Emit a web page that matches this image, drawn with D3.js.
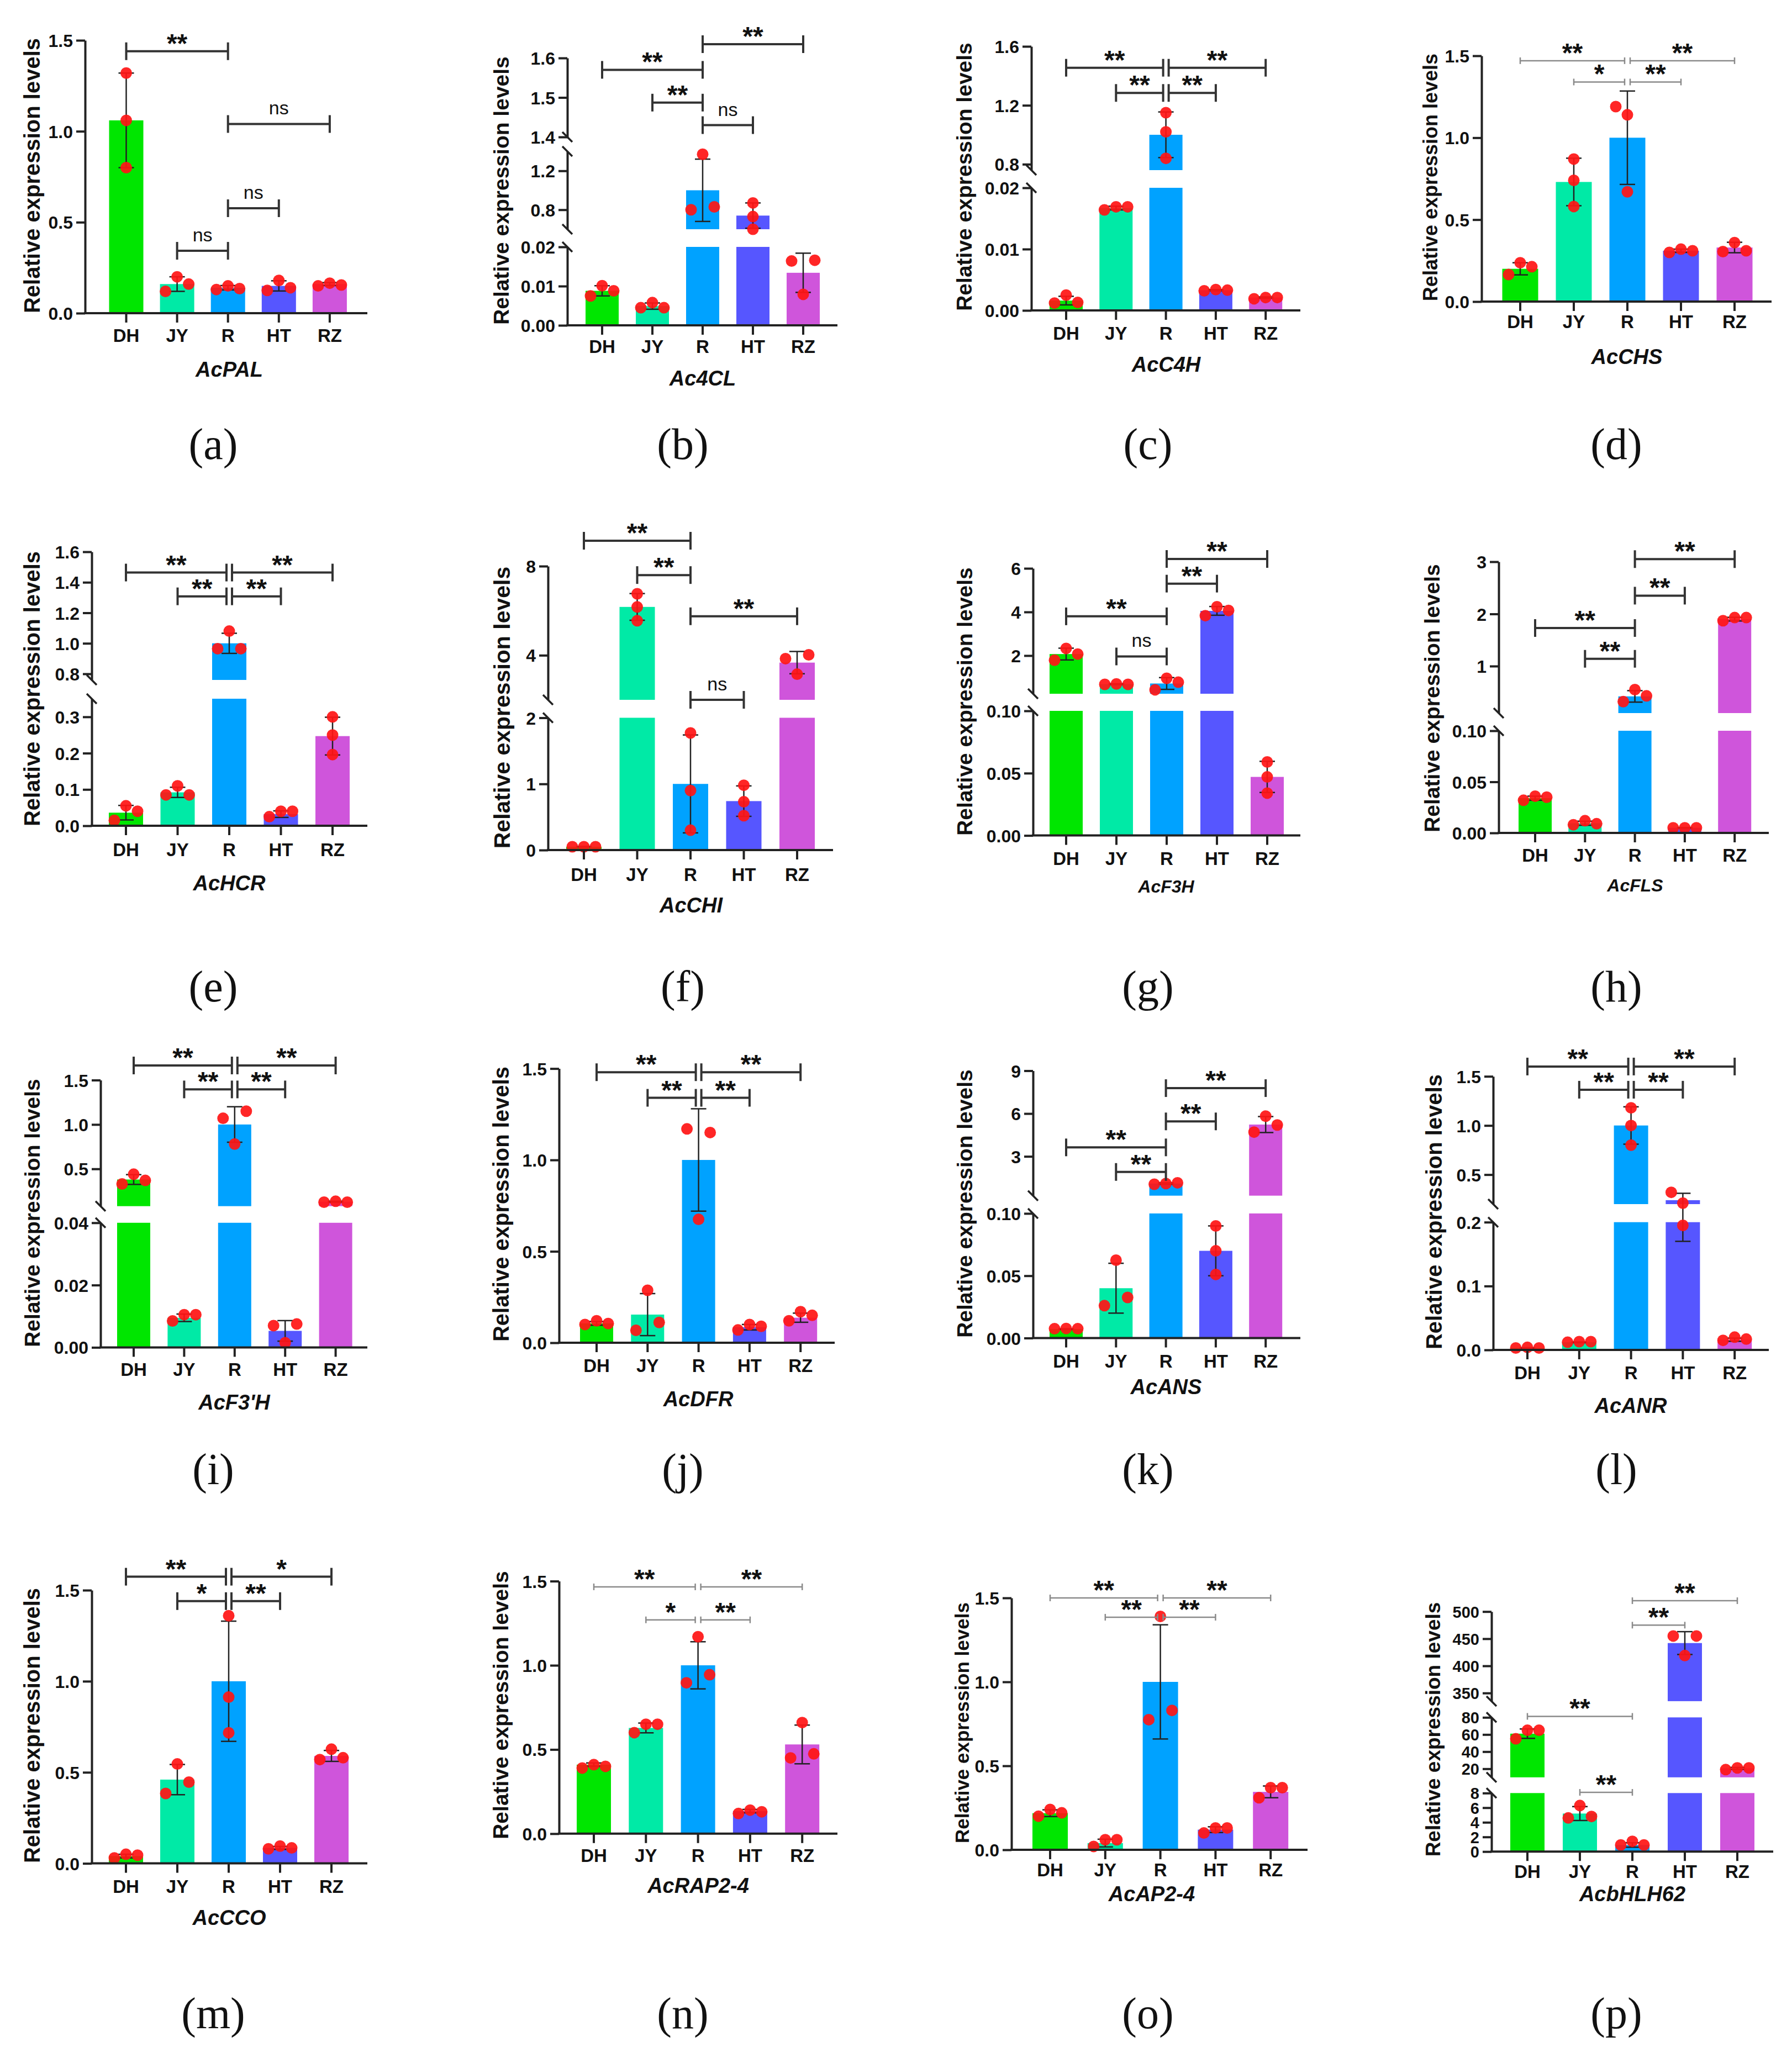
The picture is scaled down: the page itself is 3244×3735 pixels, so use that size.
<!DOCTYPE html>
<html>
<head>
<meta charset="utf-8">
<script src="https://cdn.jsdelivr.net/npm/d3@7"></script>
<style>
  body { margin: 0; background: #fff; }
  svg { display: block; }
</style>
</head>
<body>
<svg id="fig"></svg>
<script>
const W = 3244, H = 3735;

// ---- data ----
const groups = ["DH", "JY", "R", "HT", "RZ"];
const genes = ["AcPAL", "Ac4CL", "AcC4H", "AcCHS", "AcHCR", "AcCHI", "AcF3H", "AcFLS",
               "AcF3'H", "AcDFR", "AcANS", "AcANR", "AcCCO", "AcRAP2-4", "AcAP2-4", "AcbHLH62"];
const panelTags = "abcdefghijklmnop".split("").map(c => "(" + c + ")");

// y axis pieces (bottom first) and their tick values
const yDomains = [
  [[0, 1.5]],
  [[0, 0.02], [0.6, 1.4], [1.4, 1.6]],
  [[0, 0.02], [0.76, 1.6]],
  [[0, 1.5]],
  [[0, 0.35], [0.76, 1.6]],
  [[0, 2], [2, 8]],
  [[0, 0.1], [0.25, 6]],
  [[0, 0.1], [0.1, 3]],
  [[0, 0.04], [0.08, 1.5]],
  [[0, 1.5]],
  [[0, 0.1], [0.25, 9]],
  [[0, 0.2], [0.2, 1.5]],
  [[0, 1.5]],
  [[0, 1.5]],
  [[0, 1.5]],
  [[0, 8], [10, 80], [335, 500]]
];
const yTicks = [
  [[0, 0.5, 1, 1.5]],
  [[0, 0.01, 0.02], [0.8, 1.2], [1.4, 1.5, 1.6]],
  [[0, 0.01, 0.02], [0.8, 1.2, 1.6]],
  [[0, 0.5, 1, 1.5]],
  [[0, 0.1, 0.2, 0.3], [0.8, 1, 1.2, 1.4, 1.6]],
  [[0, 1, 2], [4, 8]],
  [[0, 0.05, 0.1], [2, 4, 6]],
  [[0, 0.05, 0.1], [1, 2, 3]],
  [[0, 0.02, 0.04], [0.5, 1, 1.5]],
  [[0, 0.5, 1, 1.5]],
  [[0, 0.05, 0.1], [3, 6, 9]],
  [[0, 0.1, 0.2], [0.5, 1, 1.5]],
  [[0, 0.5, 1, 1.5]],
  [[0, 0.5, 1, 1.5]],
  [[0, 0.5, 1, 1.5]],
  [[0, 2, 4, 6, 8], [20, 40, 60, 80], [350, 400, 450, 500]]
];

// bar heights (mean) per gene, order DH JY R HT RZ
const meanValues = [
  [1.06, 0.16, 0.14, 0.15, 0.16],
  [0.0088, 0.0049, 1.0, 0.74, 0.0134],
  [0.0016, 0.0167, 1.0, 0.0033, 0.0021],
  [0.2, 0.73, 1.0, 0.31, 0.33],
  [0.036, 0.092, 1.0, 0.032, 0.247],
  [0.05, 6.17, 1.0, 0.74, 3.67],
  [2.07, 0.69, 0.72, 4.05, 0.047],
  [0.034, 0.0095, 0.42, 0.005, 1.9],
  [0.38, 0.0095, 1.0, 0.0053, 0.13],
  [0.106, 0.154, 1.0, 0.085, 0.137],
  [0.0072, 0.04, 1.1, 0.07, 5.23],
  [0.003, 0.012, 1.0, 0.24, 0.016],
  [0.04, 0.46, 1.0, 0.085, 0.59],
  [0.41, 0.628, 1.0, 0.134, 0.53],
  [0.218, 0.04, 1.0, 0.12, 0.345],
  [61, 5.2, 0.9, 442, 20.5]
];
// standard deviations
const sdValues = [
  [0.26, 0.04, 0.012, 0.028, 0.008],
  [0.0013, 0.0008, 0.32, 0.13, 0.005],
  [0.0007, 0.0003, 0.155, 0.0001, 0.0001],
  [0.037, 0.145, 0.285, 0.01, 0.032],
  [0.02, 0.014, 0.066, 0.009, 0.052],
  [0.005, 0.6, 0.74, 0.23, 0.5],
  [0.27, 0.02, 0.27, 0.2, 0.0125],
  [0.002, 0.002, 0.11, 0.0003, 0.035],
  [0.055, 0.0012, 0.2, 0.0033, 0.006],
  [0.01, 0.115, 0.28, 0.015, 0.025],
  [0.0003, 0.02, 0.05, 0.02, 0.56],
  [0.0006, 0.0006, 0.19, 0.07, 0.0025],
  [0.01, 0.083, 0.33, 0.008, 0.03],
  [0.01, 0.029, 0.14, 0.01, 0.115],
  [0.02, 0.023, 0.34, 0.017, 0.035],
  [5.5, 0.95, 0.3, 21, 1.1]
];
// three replicates per bar
const replicates = [
  [[1.32, 1.06, 0.80], [0.12, 0.20, 0.16], [0.13, 0.15, 0.135], [0.125, 0.18, 0.14], [0.15, 0.165, 0.155]],
  [[0.0075, 0.0101, 0.0088], [0.0045, 0.0058, 0.0045], [0.80, 1.37, 0.83], [0.87, 0.73, 0.60], [0.0164, 0.0079, 0.0166]],
  [[0.0012, 0.0025, 0.0013], [0.0164, 0.0169, 0.0169], [1.15, 1.02, 0.84], [0.0032, 0.0034, 0.0033], [0.0019, 0.0021, 0.0021]],
  [[0.165, 0.237, 0.213], [0.87, 0.74, 0.58], [1.19, 1.14, 0.67], [0.30, 0.32, 0.31], [0.305, 0.36, 0.31]],
  [[0.015, 0.055, 0.04], [0.085, 0.11, 0.085], [0.965, 1.08, 0.965], [0.025, 0.04, 0.04], [0.30, 0.25, 0.196]],
  [[0.05, 0.05, 0.05], [6.76, 6.17, 5.55], [1.77, 0.9, 0.3], [0.98, 0.73, 0.52], [3.85, 3.15, 4.02]],
  [[1.79, 2.33, 2.07], [0.68, 0.70, 0.68], [0.43, 0.96, 0.78], [3.83, 4.24, 4.07], [0.059, 0.047, 0.034]],
  [[0.032, 0.036, 0.035], [0.008, 0.012, 0.009], [0.32, 0.55, 0.43], [0.005, 0.005, 0.005], [1.87, 1.93, 1.93]],
  [[0.33, 0.44, 0.37], [0.0085, 0.0105, 0.0105], [1.07, 0.78, 1.15], [0.007, 0.0015, 0.0075], [0.125, 0.135, 0.125]],
  [[0.10, 0.12, 0.105], [0.068, 0.287, 0.111], [1.17, 0.675, 1.15], [0.07, 0.10, 0.09], [0.12, 0.17, 0.15]],
  [[0.0075, 0.0077, 0.0075], [0.026, 0.0625, 0.0326], [1.05, 1.1, 1.15], [0.09, 0.07, 0.051], [4.7, 5.82, 5.2]],
  [[0.003, 0.004, 0.003], [0.012, 0.013, 0.013], [1.18, 1.0, 0.8], [0.32, 0.21, 0.195], [0.015, 0.02, 0.017]],
  [[0.03, 0.05, 0.045], [0.384, 0.546, 0.446], [1.36, 0.913, 0.717], [0.08, 0.095, 0.085], [0.57, 0.627, 0.58]],
  [[0.39, 0.41, 0.40], [0.60, 0.65, 0.65], [0.896, 1.17, 0.944], [0.12, 0.14, 0.13], [0.45, 0.66, 0.474]],
  [[0.20, 0.24, 0.22], [0.02, 0.06, 0.06], [0.775, 1.39, 0.83], [0.10, 0.13, 0.13], [0.31, 0.37, 0.37]],
  [[55, 65, 65], [4.6, 6.3, 4.8], [0.9, 1.4, 0.9], [455, 419, 455], [19, 21, 21]]
];
// significance brackets: [from group, to group, level (axis value), label]
const sigBrackets = [
  [[0, 2, 1.44, "**"], [2, 4, 1.04, "ns"], [2, 3, 0.577, "ns"], [1, 2, 0.343, "ns"]],
  [[0, 2, 1.57, "**"], [2, 4, 1.635, "**"], [1, 2, 1.487, "**"], [2, 3, 1.43, "ns"]],
  [[0, 2, 1.455, "**"], [2, 4, 1.455, "**"], [1, 2, 1.284, "**"], [2, 3, 1.284, "**"]],
  [[0, 2, 1.47, "**"], [2, 4, 1.47, "**"], [1, 2, 1.34, "*"], [2, 3, 1.34, "**"]],
  [[0, 2, 1.464, "**"], [2, 4, 1.464, "**"], [1, 2, 1.308, "**"], [2, 3, 1.308, "**"]],
  [[0, 2, 9.14, "**"], [1, 2, 7.6, "**"], [2, 4, 5.75, "**"], [2, 3, 2.0, "ns"]],
  [[2, 4, 6.43, "**"], [2, 3, 5.3, "**"], [0, 2, 3.8, "**"], [1, 2, 1.96, "ns"]],
  [[2, 4, 3.05, "**"], [2, 3, 2.35, "**"], [0, 2, 1.73, "**"], [1, 2, 1.14, "**"]],
  [[0, 2, 1.665, "**"], [2, 4, 1.665, "**"], [1, 2, 1.395, "**"], [2, 3, 1.395, "**"]],
  [[0, 2, 1.48, "**"], [2, 4, 1.48, "**"], [1, 2, 1.34, "**"], [2, 3, 1.34, "**"]],
  [[2, 4, 7.78, "**"], [2, 3, 5.45, "**"], [0, 2, 3.63, "**"], [1, 2, 1.91, "**"]],
  [[0, 2, 1.6, "**"], [2, 4, 1.6, "**"], [1, 2, 1.364, "**"], [2, 3, 1.364, "**"]],
  [[0, 2, 1.574, "**"], [2, 4, 1.574, "*"], [1, 2, 1.44, "*"], [2, 3, 1.44, "**"]],
  [[0, 2, 1.466, "**"], [2, 4, 1.466, "**"], [1, 2, 1.27, "*"], [2, 3, 1.27, "**"]],
  [[0, 2, 1.5, "**"], [2, 4, 1.5, "**"], [1, 2, 1.385, "**"], [2, 3, 1.385, "**"]],
  [[2, 4, 520, "**"], [2, 3, 475, "**"], [0, 2, 81.2, "**"], [1, 2, 8.1, "**"]]
];

// ---- layout (pixels) ----
// ax: y-axis x, c0: first bar centre, step: bar spacing, bw: bar width, axEnd: x-axis end,
// seg: pixel range [bottom, top] for each y piece, title: [cx, cy, size], xlab: label centre y,
// gene: [cx, cy, size], tag: [cx, cy], thin: grey bracket style
const layout = [
  {ax: 154, c0: 228.5, step: 92.1, bw: 62, axEnd: 665, seg: [[567, 73]], title: [62, 318, 40], xlab: 608, gene: [415, 668, 38], tag: [386, 811]},
  {ax: 1027, c0: 1090, step: 91, bw: 60, axEnd: 1516, seg: [[589, 447], [415, 274], [248, 105]], title: [911, 345, 39], xlab: 628, gene: [1272, 684, 38], tag: [1236, 811]},
  {ax: 1867, c0: 1930, step: 90.3, bw: 60, axEnd: 2354, seg: [[562, 340], [308, 84]], title: [1749, 320, 39], xlab: 604, gene: [2111, 659, 38], tag: [2078, 811]},
  {ax: 2682, c0: 2752, step: 97, bw: 65, axEnd: 3207, seg: [[546, 101]], title: [2593, 321, 36], xlab: 583, gene: [2945, 645, 38], tag: [2926, 811], thin: true},
  {ax: 166, c0: 228, step: 93.5, bw: 62, axEnd: 665, seg: [[1495, 1265], [1231, 999]], title: [62, 1247, 40], xlab: 1539, gene: [415, 1598, 38], tag: [386, 1793]},
  {ax: 992, c0: 1057, step: 96.5, bw: 64, axEnd: 1508, seg: [[1539, 1299.5], [1267, 1025]], title: [913, 1281, 41], xlab: 1584, gene: [1251, 1638, 38], tag: [1236, 1793]},
  {ax: 1870, c0: 1930, step: 91, bw: 60, axEnd: 2354, seg: [[1512.6, 1287], [1256, 1029]], title: [1750, 1270, 39], xlab: 1555, gene: [2111, 1604, 32], tag: [2078, 1793]},
  {ax: 2713, c0: 2779, step: 90.3, bw: 60, axEnd: 3202, seg: [[1508, 1323], [1291, 1017]], title: [2596, 1264, 39], xlab: 1549, gene: [2960, 1602, 32], tag: [2926, 1793]},
  {ax: 182, c0: 242, step: 91.4, bw: 60, axEnd: 665, seg: [[2439.4, 2213.8], [2183.7, 1955.5]], title: [62, 2196, 39], xlab: 2480, gene: [424, 2538, 38], tag: [386, 2667]},
  {ax: 1012, c0: 1080, step: 92.3, bw: 60, axEnd: 1511, seg: [[2431, 1934.6]], title: [911, 2180, 40], xlab: 2473, gene: [1264, 2532, 38], tag: [1236, 2667]},
  {ax: 1870, c0: 1930, step: 90.3, bw: 60, axEnd: 2354, seg: [[2422.5, 2196.9], [2164.7, 1938.5]], title: [1750, 2179, 39], xlab: 2465, gene: [2111, 2510, 38], tag: [2078, 2667]},
  {ax: 2703, c0: 2765, step: 93.8, bw: 62, axEnd: 3202, seg: [[2444, 2212.7], [2180, 1948.7]], title: [2600, 2194, 40], xlab: 2486, gene: [2952, 2544, 38], tag: [2926, 2667]},
  {ax: 166, c0: 228, step: 93, bw: 62, axEnd: 665, seg: [[3373.6, 2879]], title: [62, 3124, 40], xlab: 3416, gene: [415, 3471, 38], tag: [386, 3652]},
  {ax: 1012, c0: 1075, step: 94.3, bw: 62, axEnd: 1516, seg: [[3319.8, 2862.6]], title: [910, 3087, 39], xlab: 3360, gene: [1264, 3413, 38], tag: [1236, 3652], thin: true},
  {ax: 1831, c0: 1901, step: 99.8, bw: 64, axEnd: 2367, seg: [[3349, 2893]], title: [1745, 3119, 35], xlab: 3386, gene: [2085, 3428, 38], tag: [2078, 3652], thin: true},
  {ax: 2700, c0: 2765, step: 95, bw: 62, axEnd: 3210, seg: [[3352.2, 3246.3], [3217.8, 3109.3], [3079.9, 2917.7]], title: [2598, 3131, 37], xlab: 3389, gene: [2955, 3428, 38], tag: [2926, 3652], thin: true, tickFont: 29}
];

const barColors = ["#00e600", "#00eaa6", "#00a2ff", "#5656ff", "#cf55db"];
const color = d3.scaleOrdinal().domain(groups).range(barColors);
const SANS = "'Liberation Sans', Arial, sans-serif";
const SERIF = "'Liberation Serif', 'Times New Roman', serif";
const INK = "#222";

const svg = d3.select("#fig").attr("width", W).attr("height", H).attr("viewBox", `0 0 ${W} ${H}`);
svg.append("rect").attr("width", W).attr("height", H).attr("fill", "#fff");

genes.forEach((gene, p) => {
  const L = layout[p];
  const g = svg.append("g").attr("class", "panel");
  const doms = yDomains[p];
  const base = L.seg[0][0];

  const pin = 1 - L.bw / L.step;
  const x = d3.scaleBand().domain(groups)
    .range([L.c0 - L.step / 2, L.c0 + L.step * 4.5])
    .paddingInner(pin).paddingOuter(pin / 2);
  const cx = i => x(groups[i]) + x.bandwidth() / 2;

  const segs = doms.map((d, i) => d3.scaleLinear().domain(d).range(L.seg[i]));
  const yv = v => {
    let k = 0;
    doms.forEach((d, i) => { if (v >= d[0]) k = i; });
    return segs[k](v);
  };

  // bars, split over the axis pieces
  const pieces = [];
  meanValues[p].forEach((m, j) => doms.forEach((d, i) => {
    if (m > d[0]) pieces.push({j, i, lo: d[0], hi: Math.min(m, d[1])});
  }));
  g.selectAll("rect.bar").data(pieces).join("rect")
    .attr("class", "bar")
    .attr("x", d => x(groups[d.j]))
    .attr("width", x.bandwidth())
    .attr("y", d => segs[d.i](d.hi))
    .attr("height", d => segs[d.i](d.lo) - segs[d.i](d.hi))
    .attr("fill", d => color(groups[d.j]));

  // error bars (mean ± SD)
  const errs = meanValues[p].map((m, j) => ({j, lo: m - sdValues[p][j], hi: m + sdValues[p][j]}));
  const eg = g.append("g").attr("stroke", INK).attr("stroke-width", 2.5);
  eg.selectAll("line.stem").data(errs).join("line")
    .attr("x1", d => cx(d.j)).attr("x2", d => cx(d.j))
    .attr("y1", d => yv(d.lo)).attr("y2", d => yv(d.hi));
  const caps = errs.flatMap(d => [{j: d.j, v: d.lo}, {j: d.j, v: d.hi}]);
  eg.selectAll("line.cap").data(caps).join("line")
    .attr("x1", d => cx(d.j) - 14).attr("x2", d => cx(d.j) + 14)
    .attr("y1", d => yv(d.v)).attr("y2", d => yv(d.v));

  // replicate dots, spread sideways when they would overlap
  const pts = [];
  replicates[p].forEach((arr, j) => {
    const ys = arr.map(yv);
    arr.forEach((v, k) => {
      const hit = ys.some((yy, q) => q !== k && Math.abs(yy - ys[k]) < 21);
      pts.push({j, v, off: hit ? (k - 1) * 21 : 0});
    });
  });
  g.selectAll("circle.pt").data(pts).join("circle")
    .attr("class", "pt")
    .attr("cx", d => cx(d.j) + d.off)
    .attr("cy", d => yv(d.v))
    .attr("r", 10.5)
    .attr("fill", "#ff1616")
    .attr("fill-opacity", 0.93);

  // y axis pieces
  const tfs = L.tickFont || 32;
  doms.forEach((d, i) => {
    const ticks = yTicks[p][i];
    const dec = d3.max(ticks, t => (String(t).split(".")[1] || "").length);
    const axis = d3.axisLeft(segs[i]).tickValues(ticks).tickFormat(d3.format(`.${dec}f`))
      .tickSize(16).tickPadding(6).tickSizeOuter(0);
    const ga = g.append("g").attr("transform", `translate(${L.ax},0)`).call(axis);
    ga.attr("font-size", tfs).attr("font-family", SANS).attr("font-weight", "bold");
    ga.select(".domain").attr("stroke", INK).attr("stroke-width", 4);
    ga.selectAll(".tick line").attr("stroke", INK).attr("stroke-width", 4);
    ga.selectAll(".tick text").attr("fill", "#111").attr("dy", "0.36em");
    // break marks
    const ends = [];
    if (i > 0) ends.push(L.seg[i][0]);
    if (i < doms.length - 1) ends.push(L.seg[i][1]);
    g.selectAll(null).data(ends).join("line")
      .attr("x1", L.ax - 9).attr("x2", L.ax + 9)
      .attr("y1", e => e - 9).attr("y2", e => e + 9)
      .attr("stroke", INK).attr("stroke-width", 3.5);
  });

  // x axis
  const xa = d3.axisBottom(x).tickSize(17).tickSizeOuter(0)
    .tickPadding(L.xlab - 12 - base - 17);
  const gx = g.append("g").attr("transform", `translate(0,${base})`).call(xa);
  gx.select(".domain").remove();
  gx.attr("font-size", 33).attr("font-family", SANS).attr("font-weight", "bold");
  gx.selectAll(".tick line").attr("stroke", INK).attr("stroke-width", 4);
  gx.selectAll(".tick text").attr("fill", "#111");
  g.append("line").attr("x1", L.ax - 2).attr("x2", L.axEnd)
    .attr("y1", base).attr("y2", base)
    .attr("stroke", INK).attr("stroke-width", 4);

  // significance brackets
  const br = sigBrackets[p];
  const bg = g.append("g");
  const bStroke = L.thin ? "#8a8a8a" : "#333";
  const bWidth = L.thin ? 2.5 : 4;
  const tickH = L.thin ? 6 : 16;
  br.forEach(b => {
    const [a, c, v, lab] = b;
    const sharedL = br.some(o => o !== b && o[2] === v && o[1] === a);
    const sharedR = br.some(o => o !== b && o[2] === v && o[0] === c);
    const x1 = cx(a) + (sharedL ? 5 : 0);
    const x2 = cx(c) - (sharedR ? 5 : 0);
    const yy = yv(v);
    const bl = bg.append("g").attr("stroke", bStroke).attr("stroke-width", bWidth);
    bl.append("line").attr("x1", x1).attr("x2", x2).attr("y1", yy).attr("y2", yy);
    bl.append("line").attr("x1", x1).attr("x2", x1).attr("y1", yy - tickH).attr("y2", yy + tickH);
    bl.append("line").attr("x1", x2).attr("x2", x2).attr("y1", yy - tickH).attr("y2", yy + tickH);
    const isNs = lab === "ns";
    bg.append("text")
      .attr("x", (x1 + x2) / 2)
      .attr("y", isNs ? yy - 17 : yy + 2)
      .attr("text-anchor", "middle")
      .attr("font-family", SANS)
      .attr("font-size", isNs ? 34 : 48)
      .attr("font-weight", isNs ? "normal" : "bold")
      .attr("fill", "#111")
      .text(lab);
  });

  // y title
  const [tx, ty, tsz] = L.title;
  g.append("text")
    .attr("transform", `translate(${tx + 0.25 * tsz},${ty}) rotate(-90)`)
    .attr("text-anchor", "middle")
    .attr("font-family", SANS).attr("font-weight", "bold").attr("font-size", tsz)
    .attr("fill", "#111")
    .text("Relative expression levels");

  // gene name
  const [gx0, gy0, gsz] = L.gene;
  g.append("text")
    .attr("x", gx0).attr("y", gy0 + 0.36 * gsz)
    .attr("text-anchor", "middle")
    .attr("font-family", SANS).attr("font-weight", "bold").attr("font-style", "italic")
    .attr("font-size", gsz).attr("fill", "#111")
    .text(gene);

  // panel tag
  g.append("text")
    .attr("x", L.tag[0]).attr("y", L.tag[1] + 20)
    .attr("text-anchor", "middle")
    .attr("font-family", SERIF).attr("font-size", 80).attr("fill", "#111")
    .text(panelTags[p]);
});
</script>
</body>
</html>
